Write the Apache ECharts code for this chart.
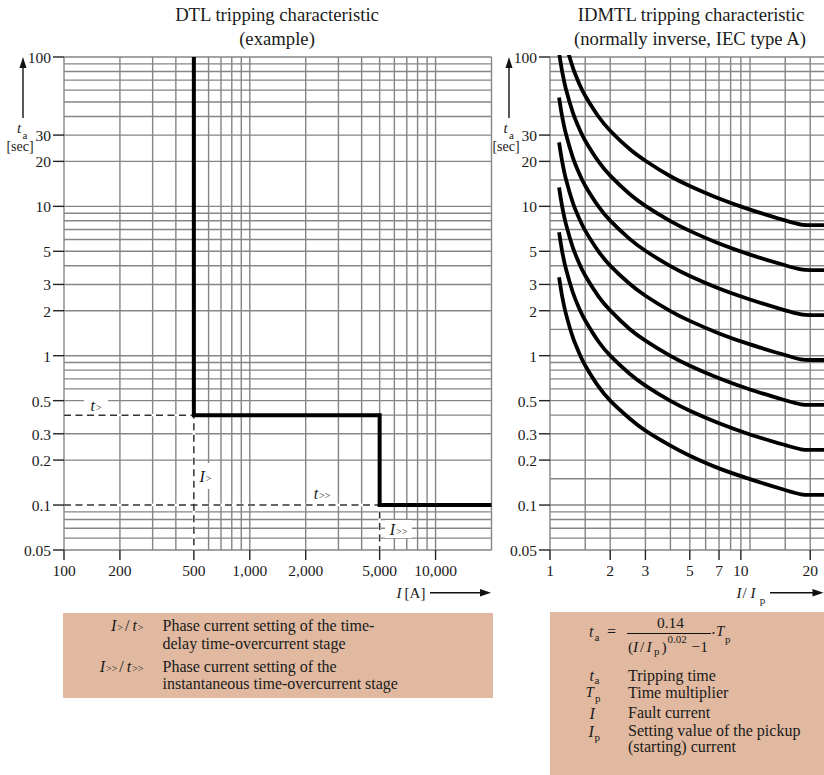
<!DOCTYPE html>
<html><head><meta charset="utf-8">
<script src="https://cdn.jsdelivr.net/npm/echarts@6/dist/echarts.min.js"></script>
<style>html,body{margin:0;padding:0;background:#fff}#c{width:824px;height:775px}</style>
</head><body><div id="c"></div>
<script>
// ---------------- DATA ----------------
const dtlXGrid = [100,200,300,400,500,600,700,800,900,1000,2000,3000,4000,5000,6000,7000,8000,9000,10000,20000];
const yGridBase = [0.05,0.06,0.07,0.08,0.09,0.1,0.2,0.3,0.4,0.5,0.6,0.7,0.8,0.9,1,2,3,4,5,6,7,8,9,10,20,30,40,50,60,70,80,90,100];
const idmtlYGridExtra = [0.15,1.5,15];
const idmtlXGrid = [1,1.5,2,3,4,5,6,7,8,9,10,15,20];
const yTickValues = [0.05,0.1,0.2,0.3,0.5,1,2,3,5,10,20,30,100];
const yTickLabels = ['0.05','0.1','0.2','0.3','0.5','1','2','3','5','10','20','30','100'];
const dtlXTickValues = [100,200,500,1000,2000,5000,10000];
const dtlXTickLabels = ['100','200','500','1,000','2,000','5,000','10,000'];
const idmtlXTickValues = [1,2,3,5,7,9,20];
const idmtlXTickLabels = ['1','2','3','5','7','10','20'];

// DTL settings
const iPickup1 = 500, tDelay1 = 0.4;    // I> / t>
const iPickup2 = 5000, tDelay2 = 0.1;   // I>> / t>>
const dtlIMin = 100, dtlIMax = 20000;
const tMin = 0.05, tMax = 100;
const ratioMin = 1, ratioMax = 23.44;

// IDMTL curves (I/Ip -> t [s])
const ratio      = [1.11,1.15,1.2,1.3,1.4,1.5,1.75,2,2.5,3,4,5,7,10,15,18,20,25];
const curveTp005 = [3.35,2.5,1.92,1.33,1.04,0.86,0.62,0.50,0.38,0.315,0.25,0.214,0.176,0.149,0.126,0.118,0.117,0.117];
const curveTp01  = [6.7,5.0,3.83,2.66,2.07,1.72,1.24,1.00,0.757,0.63,0.498,0.428,0.353,0.297,0.252,0.236,0.234,0.234];
const curveTp02  = [13.4,10.0,7.66,5.32,4.15,3.44,2.49,2.01,1.51,1.26,0.996,0.856,0.706,0.594,0.503,0.472,0.468,0.468];
const curveTp04  = [26.8,20.0,15.3,10.6,8.29,6.88,4.98,4.01,3.03,2.52,1.99,1.71,1.41,1.19,1.01,0.944,0.936,0.936];
const curveTp08  = [53.6,40.0,30.7,21.3,16.6,13.75,9.95,8.02,6.06,5.04,3.98,3.42,2.82,2.38,2.01,1.89,1.87,1.87];
const curveTp16  = [107,80.0,61.3,42.6,33.2,27.5,19.9,16.05,12.1,10.08,7.97,6.85,5.64,4.75,4.03,3.78,3.74,3.74];
const curveTp32  = [214,160,123,85.2,66.3,55.0,39.8,32.1,24.2,20.2,15.9,13.7,11.3,9.51,8.05,7.55,7.49,7.49];
const curves = [curveTp005,curveTp01,curveTp02,curveTp04,curveTp08,curveTp16,curveTp32];

// ---------------- CHART ----------------
const FONT = '"Liberation Serif","Times New Roman",serif';
const GRID_COLOR = '#858585';
const TXT = '#1a1a1a';
const chart = echarts.init(document.getElementById('c'), null, {renderer:'svg', width:824, height:775});

function vLineSeries(ax, vals, y0, y1) {
  return {type:'custom', xAxisIndex:ax, yAxisIndex:ax, z:1, silent:true,
    data: vals.map(v => [v, y0]),
    renderItem: (p, api) => { const v = api.value(0); const a = api.coord([v, y0]), b = api.coord([v, y1]);
      return {type:'line', shape:{x1:a[0], y1:a[1], x2:b[0], y2:b[1]}, style:{stroke:GRID_COLOR, lineWidth:1.4}}; }};
}
function hLineSeries(ax, vals, x0, x1) {
  return {type:'custom', xAxisIndex:ax, yAxisIndex:ax, z:1, silent:true,
    data: vals.map(v => [x0, v]),
    renderItem: (p, api) => { const v = api.value(1); const a = api.coord([x0, v]), b = api.coord([x1, v]);
      return {type:'line', shape:{x1:a[0], y1:a[1], x2:b[0], y2:b[1]}, style:{stroke:GRID_COLOR, lineWidth:1.4}}; }};
}
function xTickSeries(ax, vals, labels) {
  return {type:'custom', xAxisIndex:ax, yAxisIndex:ax, z:2, silent:true,
    data: vals.map(v => [v, tMin]),
    renderItem: (p, api) => { const pt = api.coord([api.value(0), tMin]);
      return {type:'group', children:[
        {type:'line', shape:{x1:pt[0], y1:pt[1], x2:pt[0], y2:pt[1] + 10}, style:{stroke:'#222', lineWidth:1.4}},
        {type:'text', x:pt[0], y:pt[1] + 20.5, style:{text:labels[p.dataIndex], font:'15.5px ' + FONT, fill:TXT,
          align:'center', verticalAlign:'middle', textAlign:'center', textVerticalAlign:'middle'}}]}; }};
}
function yTickSeries(ax, vals, labels, x0) {
  return {type:'custom', xAxisIndex:ax, yAxisIndex:ax, z:2, silent:true,
    data: vals.map(v => [x0, v]),
    renderItem: (p, api) => { const pt = api.coord([x0, api.value(1)]);
      return {type:'group', children:[
        {type:'line', shape:{x1:pt[0] - 11, y1:pt[1], x2:pt[0], y2:pt[1]}, style:{stroke:'#222', lineWidth:1.4}},
        {type:'text', x:pt[0] - 13, y:pt[1] + 0.5, style:{text:labels[p.dataIndex], font:'15.5px ' + FONT, fill:TXT,
          align:'right', verticalAlign:'middle', textAlign:'right', textVerticalAlign:'middle'}}]}; }};
}

const series = [
  vLineSeries(0, dtlXGrid, tMin, tMax),
  hLineSeries(0, yGridBase, dtlIMin, dtlIMax),
  vLineSeries(1, idmtlXGrid, tMin, tMax),
  hLineSeries(1, yGridBase.concat(idmtlYGridExtra), ratioMin, ratioMax),
  xTickSeries(0, dtlXTickValues, dtlXTickLabels),
  yTickSeries(0, yTickValues, yTickLabels, dtlIMin),
  xTickSeries(1, idmtlXTickValues, idmtlXTickLabels),
  yTickSeries(1, yTickValues, yTickLabels, ratioMin)
];
const guide1 = [[dtlIMin, tDelay1], [iPickup1, tDelay1], [iPickup1, tMin]];
const guide2 = [[dtlIMin, tDelay2], [iPickup2, tDelay2], [iPickup2, tMin]];
[guide1, guide2].forEach(g => {
  series.push({type:'line', xAxisIndex:0, yAxisIndex:0, data:g, symbol:'none', z:3, silent:true,
    lineStyle:{color:'#ffffff', width:2.4, type:'solid'}});
  series.push({type:'line', xAxisIndex:0, yAxisIndex:0, data:g, symbol:'none', z:4, silent:true,
    lineStyle:{color:'#333333', width:1.5, type:[7,4.5]}});
});
const stepLine = [[iPickup1, tMax], [iPickup1, tDelay1], [iPickup2, tDelay1], [iPickup2, tDelay2], [dtlIMax, tDelay2]];
series.push({type:'line', xAxisIndex:0, yAxisIndex:0, data:stepLine, symbol:'none', z:5, silent:true,
  lineStyle:{color:'#000', width:4, join:'miter', cap:'butt'}});
curves.forEach(c => series.push({type:'line', xAxisIndex:1, yAxisIndex:1, symbol:'none', z:5, silent:true,
  data: ratio.map((r, i) => [r, c[i]]), smooth:0.3, clip:true,
  lineStyle:{color:'#000', width:3.8, cap:'butt'}}));

// ---------------- GRAPHICS (titles, axis names, legends) ----------------
function txt(text, x, y, o) {
  o = o || {};
  const al = o.align || 'center', va = o.va || 'middle';
  return {type:'text', x:x, y:y, z:o.z || 100, silent:true,
    style:{text:text, font:(o.italic ? 'italic ' : '') + (o.size || 16) + 'px ' + FONT, fill:o.fill || TXT,
      align:al, verticalAlign:va, textAlign:al, textVerticalAlign:va, rich:o.rich}};
}
function rect(x, y, w, h, fill, z) {
  return {type:'rect', z:z || 90, silent:true, shape:{x:x, y:y, width:w, height:h}, style:{fill:fill}};
}
function line(x1, y1, x2, y2, w) {
  return {type:'line', z:100, silent:true, shape:{x1:x1, y1:y1, x2:x2, y2:y2}, style:{stroke:'#111', lineWidth:w || 1.4}};
}
function tri(pts) { return {type:'polygon', z:100, silent:true, shape:{points:pts}, style:{fill:'#111'}}; }

const symRich = {
  i:{font:'italic 16px ' + FONT, fill:TXT},
  s:{font:'10px ' + FONT, fill:TXT, padding:[4,0,0,1]},
  n:{font:'16px ' + FONT, fill:TXT, padding:[0,3,0,2]}
};
const annRich = {
  i:{font:'italic 16px ' + FONT, fill:TXT},
  s:{font:'10px ' + FONT, fill:TXT, padding:[4,0,0,1]}
};
const LEG = '#e0b9a0';

const elements = [
  // titles
  txt('DTL tripping characteristic', 277, 14, {size:18.7}),
  txt('(example)', 277, 38, {size:18.7}),
  txt('IDMTL tripping characteristic', 691, 14, {size:18.7}),
  txt('(normally inverse, IEC type A)', 690, 38, {size:18.7}),
  // left y-axis name + arrow
  line(23, 118, 23, 66), tri([[23,57],[19.5,68],[26.5,68]]),
  txt('t', 19, 128, {italic:true, size:15}), txt('a', 25, 134.5, {size:11}), txt('[sec]', 20, 146.5, {size:14}),
  // right y-axis name + arrow
  line(509, 118, 509, 66), tri([[509,57],[505.5,68],[512.5,68]]),
  txt('t', 505.5, 128, {italic:true, size:15}), txt('a', 511.5, 134.5, {size:11}), txt('[sec]', 506, 146.5, {size:14}),
  // left x-axis name + arrow
  txt('I', 399, 593, {italic:true, size:15}), txt('[A]', 415, 593, {size:15}),
  line(430, 592.7, 482, 592.7), tri([[491,592.7],[480,589],[480,596.4]]),
  // right x-axis name + arrow
  txt('I', 739, 593, {italic:true, size:15}), txt('/', 744.5, 593, {size:15}), txt('I', 753, 593, {italic:true, size:15}),
  txt('p', 762.5, 600, {size:11}),
  line(770, 592.7, 814, 592.7), tri([[823.5,592.7],[812.5,589],[812.5,596.4]]),
  // annotations in DTL chart
  rect(84, 398, 24, 14, '#fff', 95), txt('{i|t}{s|>}', 96, 405, {rich:annRich}),
  rect(197, 463, 18, 26, '#fff', 95), txt('{i|I}{s|>}', 205.5, 476.5, {rich:annRich}),
  rect(308, 486, 28, 14, '#fff', 95), txt('{i|t}{s|>>}', 322, 493, {rich:annRich}),
  rect(385, 520, 27, 18, '#fff', 95), txt('{i|I}{s|>>}', 398.5, 529, {rich:annRich}),
  // left legend box
  rect(63, 613, 430, 85, LEG),
  txt('{i|I}{s|>}{n|/}{i|t}{s|>}', 143.5, 625, {align:'right', rich:symRich}),
  txt('Phase current setting of the time-', 162.5, 625, {align:'left'}),
  txt('delay time-overcurrent stage', 162.5, 643, {align:'left'}),
  txt('{i|I}{s|>>}{n|/}{i|t}{s|>>}', 143.5, 666.5, {align:'right', rich:symRich}),
  txt('Phase current setting of the', 162.5, 666.5, {align:'left'}),
  txt('instantaneous time-overcurrent stage', 162.5, 683.5, {align:'left'}),
  // right legend box
  rect(550, 612, 274, 163, LEG),
  txt('t', 589, 631, {italic:true, align:'left'}), txt('a', 594.5, 637, {size:11, align:'left'}),
  txt('=', 607, 631, {align:'left'}),
  txt('0.14', 670.5, 622, {size:15.5}),
  line(627, 633.5, 711, 633.5, 1.1),
  txt('(', 628, 646, {size:15.5, align:'left'}),
  txt('I', 633, 646, {size:15.5, italic:true, align:'left'}),
  txt('/', 640, 646, {size:15.5, align:'left'}),
  txt('I', 646.5, 646, {size:15.5, italic:true, align:'left'}),
  txt('p', 654, 651, {size:11, align:'left'}),
  txt(')', 661.5, 646, {size:15.5, align:'left'}),
  txt('0.02', 667.5, 639, {size:11, align:'left'}),
  txt('\u22121', 691.5, 646, {size:15.5, align:'left'}),
  txt('\u00b7', 713.5, 633, {size:16}),
  txt('T', 716, 631, {italic:true, size:15, align:'left'}), txt('p', 725, 639, {size:11, align:'left'}),
  txt('t', 589.5, 675, {italic:true, align:'left'}), txt('a', 594.5, 680, {size:11, align:'left'}),
  txt('Tripping time', 628, 675.5, {align:'left'}),
  txt('T', 585.5, 692, {italic:true, size:15, align:'left'}), txt('p', 595, 698, {size:11, align:'left'}),
  txt('Time multiplier', 628, 692.5, {align:'left'}),
  txt('I', 589.5, 713, {italic:true, align:'left'}),
  txt('Fault current', 628, 712.5, {align:'left'}),
  txt('I', 588.5, 731, {italic:true, align:'left'}), txt('p', 594.5, 737, {size:11, align:'left'}),
  txt('Setting value of the pickup', 628, 730.5, {align:'left'}),
  txt('(starting) current', 628, 746, {align:'left'})
];

const hiddenAxis = {show:false, axisLine:{show:false}, axisTick:{show:false}, axisLabel:{show:false}, splitLine:{show:false}};
chart.setOption({
  animation:false,
  backgroundColor:'#ffffff',
  grid:[
    {left:64, top:57, width:427.5, height:493},
    {left:550, top:57, width:274, height:493}
  ],
  xAxis:[
    Object.assign({type:'log', logBase:10, gridIndex:0, min:dtlIMin, max:dtlIMax}, hiddenAxis),
    Object.assign({type:'log', logBase:10, gridIndex:1, min:ratioMin, max:ratioMax}, hiddenAxis)
  ],
  yAxis:[
    Object.assign({type:'log', logBase:10, gridIndex:0, min:tMin, max:tMax}, hiddenAxis),
    Object.assign({type:'log', logBase:10, gridIndex:1, min:tMin, max:tMax}, hiddenAxis)
  ],
  graphic:{elements:elements},
  series:series
});
</script></body></html>
